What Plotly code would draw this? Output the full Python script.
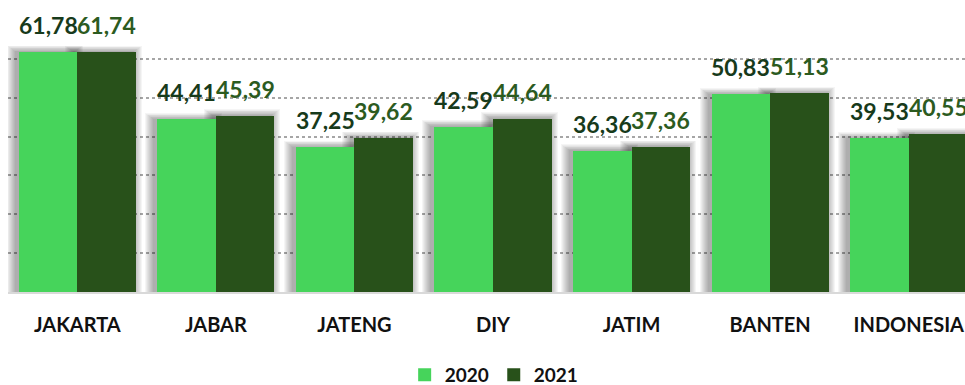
import plotly.graph_objects as go

# Data
regions = ["JAKARTA", "JABAR", "JATENG", "DIY", "JATIM", "BANTEN", "INDONESIA"]
values_2020 = [61.78, 44.41, 37.25, 42.59, 36.36, 50.83, 39.53]
values_2021 = [61.74, 45.39, 39.62, 44.64, 37.36, 51.13, 40.55]
series_names = ["2020", "2021"]

# Styling
COLOR_2020 = "#46D45B"
COLOR_2021 = "#28511A"
LABEL_2020 = "#173A1B"
LABEL_2021 = "#2C5B1F"
FONT = "Lato"

W, H = 965, 385
M_L, M_R, M_T, M_B = 8, 0, 20, 93
Y_MAX = 70
BAR_W = 0.4225          # width of each bar in category units
X_MIN = -0.5
X_MAX = 6.406

px_per_x = (W - M_L - M_R) / (X_MAX - X_MIN)
px_per_y = (H - M_T - M_B) / Y_MAX

fig = go.Figure()

# soft drop shadow behind every bar: stacked translucent bars that spread
# out one pixel at a time, shifted slightly to the left
def add_shadow(values, offset):
    layers = 9
    for k in range(1, layers + 1):
        grow = 1.0 * k
        dx = -3.0
        lift = 0.7 * k
        fig.add_trace(go.Bar(
            x=regions,
            y=[v + lift / px_per_y for v in values],
            base=0,
            offset=offset + (dx - grow) / px_per_x,
            width=BAR_W + 2 * grow / px_per_x,
            marker=dict(color="rgba(0,0,0,0.04)", line=dict(width=0)),
            showlegend=False,
            hoverinfo="skip",
        ))

add_shadow(values_2020, -BAR_W)
add_shadow(values_2021, 0)

fig.add_trace(go.Bar(
    x=regions, y=values_2020, name=series_names[0],
    offset=-BAR_W, width=BAR_W,
    marker=dict(color=COLOR_2020, line=dict(width=0)),
    showlegend=False,
))
fig.add_trace(go.Bar(
    x=regions, y=values_2021, name=series_names[1],
    offset=0, width=BAR_W,
    marker=dict(color=COLOR_2021, line=dict(width=0)),
    showlegend=False,
))

# legend entries drawn as square swatches
for name, col in zip(series_names, (COLOR_2020, COLOR_2021)):
    fig.add_trace(go.Scatter(
        x=[None], y=[None], mode="markers", name=name,
        marker=dict(symbol="square", size=13, color=col),
        showlegend=True,
    ))

def fmt(v):
    return f"{v:.2f}".replace(".", ",")

annotations = []
half = BAR_W / 2 * px_per_x
for vals, sign, col in ((values_2020, -1, LABEL_2020), (values_2021, 1, LABEL_2021)):
    for r, v in zip(regions, vals):
        annotations.append(dict(
            x=r, y=v, xref="x", yref="y",
            text=fmt(v), showarrow=False,
            xshift=sign * half, yshift=27,
            yanchor="middle", xanchor="center",
            font=dict(family=FONT, size=23, color=col, weight="bold"),
        ))

fig.update_layout(
    width=W, height=H,
    margin=dict(l=M_L, r=M_R, t=M_T, b=M_B, autoexpand=False),
    paper_bgcolor="white", plot_bgcolor="white",
    barmode="overlay",
    bargap=0,
    showlegend=True,
    legend=dict(
        orientation="h", x=0.508, xanchor="center",
        y=-0.305, yanchor="middle",
        font=dict(family=FONT, size=19, color="#111111", weight="bold"),
        itemwidth=30,
        traceorder="normal",
    ),
    annotations=annotations,
    font=dict(family=FONT),
)

fig.update_xaxes(
    type="category",
    range=[X_MIN, X_MAX],
    showgrid=False,
    showline=True, linecolor="#D9D9D9", linewidth=2,
    ticks="",
    ticklabelstandoff=14,
    tickfont=dict(family=FONT, size=20, color="#111111", weight="bold"),
    automargin=False,
)
fig.update_yaxes(
    range=[0, Y_MAX],
    dtick=10,
    showgrid=True, gridcolor="#A6A6A6", gridwidth=1.5, griddash="dot",
    showticklabels=False,
    zeroline=False,
    showline=False,
    automargin=False,
)

fig.write_html("out.html")
